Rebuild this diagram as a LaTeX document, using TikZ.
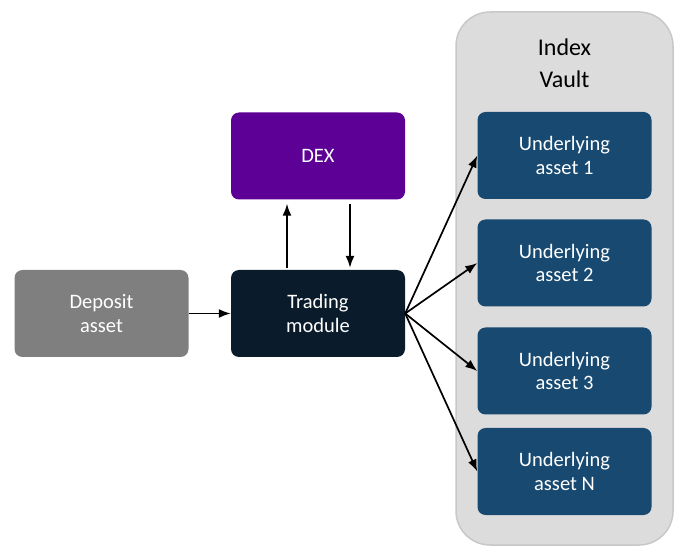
\documentclass[tikz,border=0pt]{standalone}
\usepackage{fontspec}
\setmainfont{Carlito}
\usetikzlibrary{positioning, arrows.meta}

\definecolor{vaultfill}{HTML}{DCDCDC}
\definecolor{vaultline}{HTML}{C8C8C8}
\definecolor{assetblue}{HTML}{184970}
\definecolor{dexpurple}{HTML}{5C0096}
\definecolor{tradenavy}{HTML}{0A1C2B}
\definecolor{depositgrey}{HTML}{7F7F7F}

\tikzset{
  box/.style={rectangle, rounded corners=8pt, minimum width=174pt, minimum height=87pt,
    inner sep=0pt, text=white, align=center, font=\fontsize{20.5}{23.5}\selectfont},
  arr/.style={-{Latex[length=12pt,width=9pt]}, line width=1.7pt}
}

\begin{document}
\begin{tikzpicture}[x=1pt, y=-1pt]
\useasboundingbox (0,0) rectangle (689,556);

% vault
\node [rectangle, rounded corners=34pt, minimum width=217pt, minimum height=533pt,
  fill=vaultfill, draw=vaultline, line width=1.5pt] (vault) at (564.5,278.5) {};
\node [align=center, font=\fontsize{24}{32}\selectfont, text=black] (title) at (564.5,63) {Index\\Vault};

\node [box, fill=assetblue] (u1) at (564.5,155.5) {Underlying\\asset 1};
\node [box, fill=assetblue] (u2) at (564.5,263) {Underlying\\asset 2};
\node [box, fill=assetblue] (u3) at (564.5,371) {Underlying\\asset 3};
\node [box, fill=assetblue] (uN) at (564.5,471.5) {Underlying\\asset N};

\node [box, fill=dexpurple] (dex) at (318,156) {DEX};
\node [box, fill=tradenavy] (trade) at (318,313.5) {Trading\\module};
\node [box, fill=depositgrey] (deposit) at (101.5,313.5) {Deposit\\asset};

\draw[arr] (deposit) -- (trade);
\draw[arr, shorten >=4pt, shorten <=2pt] ([xshift=-31pt]trade.north) -- ([xshift=-31pt]dex.south);
\draw[arr, shorten >=2pt, shorten <=4pt] ([xshift=32pt]dex.south) -- ([xshift=32pt]trade.north);

\draw[arr] (trade.east) -- (u1.west);
\draw[arr] (trade.east) -- (u2.west);
\draw[arr] (trade.east) -- (u3.west);
\draw[arr] (trade.east) -- (uN.west);

\end{tikzpicture}
\end{document}
